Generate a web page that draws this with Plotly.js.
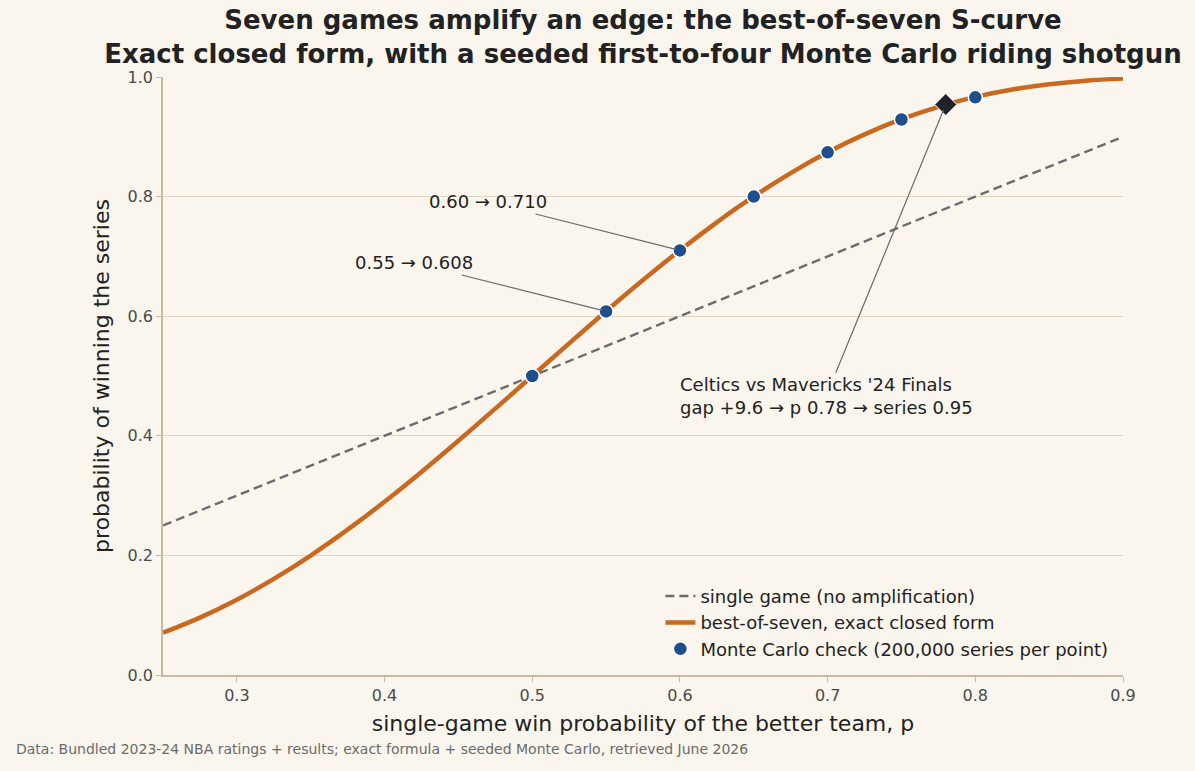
<!DOCTYPE html>
<html>
<head>
<meta charset="utf-8">
<script src="https://cdn.plot.ly/plotly-3.0.1.min.js"></script>
<style>
  html, body { margin: 0; padding: 0; background: #faf6ee; }
  #chart { width: 1195px; height: 771px; }
</style>
</head>
<body>
<div id="chart"></div>
<script>
// Single-game win probability p (better team)
const curveP = [0.25, 0.275, 0.3, 0.325, 0.35, 0.375, 0.4, 0.425, 0.45, 0.475,
                0.5, 0.525, 0.55, 0.575, 0.6, 0.625, 0.65, 0.675, 0.7, 0.725,
                0.75, 0.775, 0.8, 0.825, 0.85, 0.875, 0.9];
// Best-of-seven series win probability at each p
const curveSeries = [0.0706, 0.0960, 0.1260, 0.1607, 0.1998, 0.2430, 0.2898, 0.3396, 0.3917, 0.4455,
                     0.5000, 0.5545, 0.6083, 0.6604, 0.7102, 0.7570, 0.8002, 0.8393, 0.8740, 0.9040,
                     0.9294, 0.9502, 0.9667, 0.9791, 0.9879, 0.9938, 0.9973];
// Single game, no amplification
const singleP = [0.25, 0.9];
const singleWin = [0.25, 0.9];
// Monte Carlo check points
const mcP = [0.5, 0.55, 0.6, 0.65, 0.7, 0.75, 0.8];
const mcSeries = [0.500, 0.608, 0.710, 0.800, 0.874, 0.929, 0.966];
// 2024 Finals matchup
const finalsGap = 9.6;
const finalsP = 0.78;
const finalsSeries = 0.954;

const traces = [
  {
    x: singleP, y: singleWin, mode: 'lines', name: 'single game (no amplification)',
    line: { color: '#6b6b70', width: 2.4, dash: '9px,5px' }
  },
  {
    x: curveP, y: curveSeries, mode: 'lines', name: 'best-of-seven, exact closed form',
    line: { color: '#c8691f', width: 4.5, shape: 'spline' }
  },
  {
    x: mcP, y: mcSeries, mode: 'markers', name: 'Monte Carlo check (200,000 series per point)',
    marker: { color: '#1f4e8c', size: 14, line: { color: '#ffffff', width: 1.5 } }
  },
  {
    x: [finalsP], y: [finalsSeries], mode: 'markers', showlegend: false,
    marker: { color: '#1f2329', size: 17, symbol: 'diamond', line: { color: '#ffffff', width: 1 } }
  }
];

const idx55 = mcP.indexOf(0.55);
const idx60 = mcP.indexOf(0.6);

const annFont = { family: 'DejaVu Sans', size: 18, color: '#222222' };

const layout = {
  width: 1195, height: 771,
  paper_bgcolor: '#faf6ee', plot_bgcolor: '#faf6ee',
  margin: { l: 163, r: 72, t: 77, b: 96 },
  font: { family: 'DejaVu Sans', color: '#222222' },
  title: {
    text: '<b>Seven games amplify an edge: the best-of-seven S-curve</b><br><b>Exact closed form, with a seeded first-to-four Monte Carlo riding shotgun</b>',
    font: { family: 'DejaVu Sans', size: 26, color: '#222222' },
    x: 0.5, xref: 'paper', xanchor: 'center', y: 0.962, yref: 'container', yanchor: 'middle'
  },
  xaxis: {
    range: [0.25, 0.9], tickvals: [0.3, 0.4, 0.5, 0.6, 0.7, 0.8, 0.9],
    ticktext: ['0.3', '0.4', '0.5', '0.6', '0.7', '0.8', '0.9'],
    showgrid: false, zeroline: false,
    showline: true, linecolor: '#c9b9a3', linewidth: 1.5,
    ticks: 'outside', ticklen: 5, tickcolor: '#c9b9a3',
    tickfont: { size: 16, color: '#4a4a4a' },
    title: { text: 'single-game win probability of the better team, p', font: { size: 22, color: '#222222' }, standoff: 12 }
  },
  yaxis: {
    range: [0, 1], tickvals: [0, 0.2, 0.4, 0.6, 0.8, 1.0],
    ticktext: ['0.0', '0.2', '0.4', '0.6', '0.8', '1.0'],
    showgrid: true, gridcolor: '#e0d6c3', gridwidth: 1, zeroline: false,
    showline: true, linecolor: '#c9b9a3', linewidth: 1.5,
    ticks: 'outside', ticklen: 5, tickcolor: '#c9b9a3',
    tickfont: { size: 16, color: '#4a4a4a' },
    title: { text: 'probability of winning the series', font: { size: 22, color: '#222222' }, standoff: 12 }
  },
  legend: {
    x: 0.99, xanchor: 'right', y: 0.012, yanchor: 'bottom',
    bgcolor: 'rgba(0,0,0,0)', font: { size: 18, color: '#222222' },
    tracegroupgap: 0
  },
  annotations: [
    {
      x: mcP[idx60], y: mcSeries[idx60], xref: 'x', yref: 'y',
      ax: 0.47, ay: 0.791, axref: 'x', ayref: 'y',
      text: mcP[idx60].toFixed(2) + ' → ' + mcSeries[idx60].toFixed(3),
      showarrow: true, arrowhead: 0, arrowwidth: 1.2, arrowcolor: '#6b6b6b',
      standoff: 4, font: annFont
    },
    {
      x: mcP[idx55], y: mcSeries[idx55], xref: 'x', yref: 'y',
      ax: 0.42, ay: 0.689, axref: 'x', ayref: 'y',
      text: mcP[idx55].toFixed(2) + ' → ' + mcSeries[idx55].toFixed(3),
      showarrow: true, arrowhead: 0, arrowwidth: 1.2, arrowcolor: '#6b6b6b',
      standoff: 4, font: annFont
    },
    {
      x: finalsP, y: finalsSeries, xref: 'x', yref: 'y',
      ax: 0.699, ay: 0.466, axref: 'x', ayref: 'y',
      text: "Celtics vs Mavericks '24 Finals<br>gap +" + finalsGap.toFixed(1) + ' → p ' + finalsP.toFixed(2) + ' → series ' + finalsSeries.toFixed(2),
      align: 'left',
      showarrow: true, arrowhead: 0, arrowwidth: 1.2, arrowcolor: '#6b6b6b',
      standoff: 6, font: annFont
    },
    {
      x: -0.155, y: -0.124, xref: 'paper', yref: 'paper', xanchor: 'left', yanchor: 'middle',
      text: 'Data: Bundled 2023-24 NBA ratings + results; exact formula + seeded Monte Carlo, retrieved June 2026',
      showarrow: false, font: { size: 14, color: '#6b6b6b' }
    }
  ]
};

Plotly.newPlot('chart', traces, layout, { displayModeBar: false, responsive: false });
</script>
</body>
</html>
